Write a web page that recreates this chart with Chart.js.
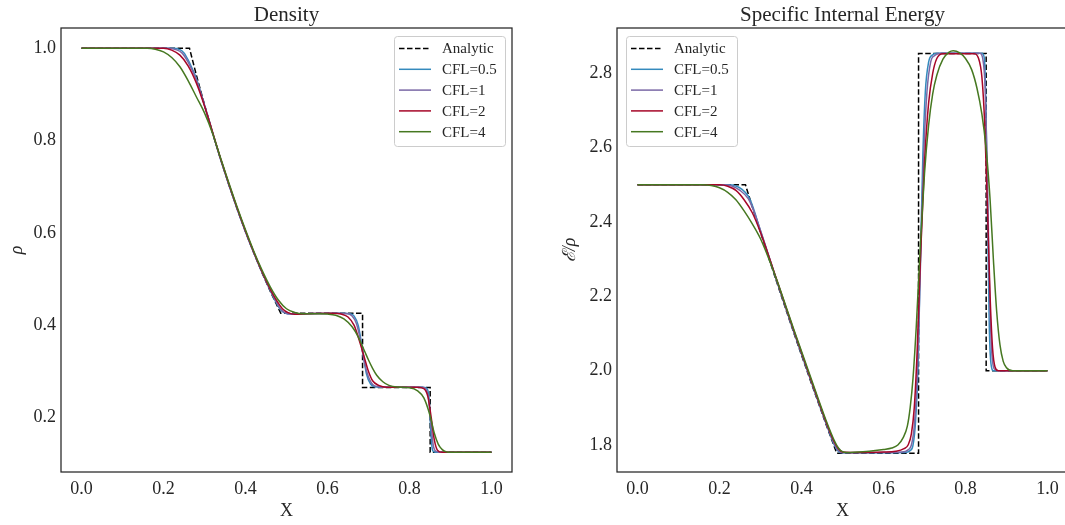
<!DOCTYPE html>
<html>
<head>
<meta charset="utf-8">
<script src="https://cdn.jsdelivr.net/npm/chart.js@4.4.1/dist/chart.umd.min.js"></script>
<style>
  html, body { margin: 0; padding: 0; background: #ffffff; overflow: hidden; }
  #wrap { position: relative; width: 1065px; height: 525px; overflow: hidden; }
  #c1 { position: absolute; left: 0; top: 0; }
  #c2 { position: absolute; left: 530px; top: 0; }
</style>
</head>
<body>
<div id="wrap">
  <canvas id="c1" width="530" height="525"></canvas>
  <canvas id="c2" width="540" height="525"></canvas>
</div>
<script>
// ---------- tick labels / categories ----------
const xTicks = [0.0, 0.2, 0.4, 0.6, 0.8, 1.0];
const densityTicks = [0.2, 0.4, 0.6, 0.8, 1.0];
const energyTicks = [1.8, 2.0, 2.2, 2.4, 2.6, 2.8];
const seriesLabels = ['Analytic', 'CFL=0.5', 'CFL=1', 'CFL=2', 'CFL=4'];

// ---------- Density series [x, rho] ----------
const densityAnalytic = [[0,1],[0.2634,1],[0.28,0.9424],[0.30,0.8776],[0.32,0.8157],[0.34,0.7577],[0.36,0.7030],[0.38,0.6514],[0.40,0.6027],[0.42,0.5576],[0.44,0.5147],[0.46,0.4745],[0.486,0.4263],[0.6855,0.4263],[0.6855,0.2656],[0.8504,0.2656],[0.8504,0.125],[1,0.125]];
const densityCfl05 = [[0,1],[0.22,1],[0.24,0.997],[0.25,0.99],[0.26,0.975],[0.27,0.956],[0.28,0.935],[0.30,0.876],[0.34,0.757],[0.38,0.651],[0.42,0.557],[0.46,0.476],[0.475,0.449],[0.485,0.434],[0.495,0.427],[0.51,0.4245],[0.55,0.425],[0.62,0.426],[0.655,0.425],[0.665,0.42],[0.675,0.40],[0.685,0.35],[0.695,0.295],[0.705,0.273],[0.715,0.267],[0.73,0.266],[0.83,0.266],[0.842,0.264],[0.848,0.24],[0.852,0.17],[0.856,0.13],[0.862,0.125],[1,0.125]];
const densityCfl1 = [[0,1],[0.21,1],[0.23,0.997],[0.245,0.99],[0.26,0.97],[0.28,0.932],[0.30,0.877],[0.34,0.758],[0.38,0.652],[0.42,0.558],[0.46,0.477],[0.475,0.451],[0.485,0.436],[0.497,0.427],[0.51,0.4245],[0.55,0.425],[0.62,0.426],[0.65,0.425],[0.66,0.42],[0.67,0.405],[0.68,0.37],[0.69,0.32],[0.70,0.288],[0.71,0.272],[0.725,0.267],[0.74,0.266],[0.83,0.266],[0.838,0.264],[0.846,0.245],[0.852,0.19],[0.858,0.14],[0.865,0.127],[0.875,0.125],[1,0.125]];
const densityCfl2 = [[0,1],[0.2,1],[0.22,0.996],[0.24,0.985],[0.26,0.962],[0.28,0.925],[0.30,0.875],[0.34,0.759],[0.38,0.653],[0.42,0.559],[0.46,0.479],[0.475,0.455],[0.49,0.436],[0.505,0.427],[0.52,0.424],[0.55,0.425],[0.61,0.426],[0.635,0.424],[0.65,0.418],[0.665,0.40],[0.68,0.36],[0.69,0.33],[0.70,0.30],[0.71,0.28],[0.725,0.27],[0.745,0.266],[0.82,0.266],[0.835,0.263],[0.845,0.245],[0.853,0.2],[0.86,0.155],[0.868,0.13],[0.88,0.125],[1,0.125]];
const densityCfl4 = [[0,1],[0.16,1],[0.18,0.998],[0.20,0.992],[0.22,0.98],[0.24,0.96],[0.26,0.93],[0.28,0.895],[0.30,0.86],[0.32,0.815],[0.34,0.76],[0.38,0.655],[0.42,0.561],[0.44,0.52],[0.46,0.484],[0.48,0.455],[0.50,0.436],[0.52,0.428],[0.54,0.425],[0.58,0.425],[0.60,0.4245],[0.62,0.422],[0.64,0.414],[0.66,0.397],[0.675,0.375],[0.69,0.345],[0.70,0.325],[0.71,0.307],[0.72,0.292],[0.735,0.278],[0.75,0.27],[0.77,0.2665],[0.80,0.265],[0.82,0.258],[0.835,0.243],[0.85,0.205],[0.86,0.168],[0.87,0.143],[0.88,0.131],[0.89,0.126],[0.90,0.125],[1,0.125]];

// ---------- Specific internal energy series [x, e] ----------
const energyAnalytic = [[0,2.5],[0.2634,2.5],[0.28,2.441],[0.30,2.373],[0.32,2.304],[0.34,2.237],[0.36,2.171],[0.38,2.106],[0.40,2.042],[0.42,1.979],[0.44,1.917],[0.46,1.855],[0.486,1.7776],[0.6855,1.7776],[0.6855,2.8536],[0.8504,2.8536],[0.8504,2.0],[1,2.0]];
const energyCfl05 = [[0,2.5],[0.22,2.5],[0.24,2.497],[0.255,2.488],[0.27,2.47],[0.28,2.445],[0.30,2.376],[0.34,2.24],[0.38,2.108],[0.42,1.982],[0.46,1.858],[0.48,1.8],[0.49,1.783],[0.50,1.779],[0.52,1.779],[0.60,1.779],[0.65,1.78],[0.665,1.785],[0.672,1.80],[0.678,1.86],[0.684,2.0],[0.69,2.3],[0.696,2.58],[0.702,2.75],[0.71,2.83],[0.72,2.85],[0.73,2.854],[0.84,2.854],[0.846,2.84],[0.85,2.7],[0.854,2.4],[0.858,2.12],[0.862,2.02],[0.868,2.0],[1,2.0]];
const energyCfl1 = [[0,2.5],[0.21,2.5],[0.23,2.497],[0.25,2.485],[0.27,2.463],[0.28,2.44],[0.30,2.377],[0.34,2.241],[0.38,2.11],[0.42,1.984],[0.46,1.86],[0.48,1.803],[0.49,1.785],[0.50,1.779],[0.52,1.779],[0.60,1.78],[0.645,1.781],[0.66,1.787],[0.668,1.80],[0.675,1.85],[0.682,1.98],[0.69,2.28],[0.698,2.58],[0.706,2.75],[0.715,2.83],[0.725,2.848],[0.74,2.854],[0.835,2.854],[0.842,2.84],[0.848,2.76],[0.853,2.55],[0.858,2.25],[0.863,2.07],[0.87,2.005],[0.88,2.0],[1,2.0]];
const energyCfl2 = [[0,2.5],[0.2,2.5],[0.22,2.496],[0.24,2.485],[0.26,2.46],[0.28,2.425],[0.30,2.372],[0.34,2.243],[0.38,2.112],[0.42,1.986],[0.46,1.862],[0.48,1.808],[0.49,1.79],[0.50,1.781],[0.52,1.78],[0.60,1.781],[0.63,1.783],[0.65,1.79],[0.66,1.80],[0.668,1.83],[0.675,1.9],[0.682,2.05],[0.69,2.3],[0.70,2.56],[0.71,2.72],[0.72,2.8],[0.73,2.84],[0.745,2.853],[0.82,2.853],[0.832,2.84],[0.84,2.79],[0.847,2.66],[0.854,2.42],[0.86,2.2],[0.866,2.06],[0.872,2.01],[0.88,2.0],[1,2.0]];
const energyCfl4 = [[0,2.5],[0.16,2.5],[0.18,2.498],[0.20,2.492],[0.22,2.48],[0.24,2.46],[0.26,2.43],[0.28,2.395],[0.30,2.355],[0.32,2.302],[0.34,2.243],[0.38,2.115],[0.42,1.99],[0.46,1.866],[0.48,1.812],[0.49,1.792],[0.50,1.782],[0.51,1.78],[0.55,1.782],[0.58,1.785],[0.60,1.788],[0.62,1.792],[0.635,1.80],[0.648,1.82],[0.658,1.85],[0.665,1.9],[0.672,1.98],[0.68,2.12],[0.69,2.34],[0.70,2.53],[0.71,2.66],[0.72,2.745],[0.73,2.795],[0.745,2.838],[0.76,2.857],[0.77,2.861],[0.785,2.856],[0.80,2.84],[0.815,2.81],[0.828,2.76],[0.84,2.69],[0.85,2.6],[0.86,2.46],[0.868,2.3],[0.876,2.16],[0.884,2.07],[0.892,2.025],[0.90,2.008],[0.915,2.0],[1,2.0]];

// ---------- styling ----------
const seriesColors = ['#000000', '#348ABD', '#7A68A6', '#A60628', '#467821'];
const serif = "'Liberation Serif', 'DejaVu Serif', serif";
const inkColor = '#262626';

function toPoints(arr) { return arr.map(p => ({ x: p[0], y: p[1] })); }

function buildDatasets(seriesArr) {
  return seriesArr.map((s, i) => ({
    label: seriesLabels[i],
    data: toPoints(s),
    borderColor: seriesColors[i],
    backgroundColor: seriesColors[i],
    borderWidth: 1.5,
    borderDash: i === 0 ? [5.5, 2.5] : [],
    pointRadius: 0,
    fill: false,
    tension: 0,
    cubicInterpolationMode: i === 0 ? 'default' : 'monotone',
    order: 5 - i
  }));
}

const framePlugin = {
  id: 'frame',
  afterDatasetsDraw(chart, args, opts) {
    const { ctx, chartArea: a } = chart;
    ctx.save();
    // axes box
    ctx.strokeStyle = inkColor;
    ctx.lineWidth = 1.25;
    ctx.strokeRect(a.left, a.top, a.right - a.left, a.bottom - a.top);
    // title
    ctx.fillStyle = inkColor;
    ctx.font = "21px " + serif;
    ctx.textAlign = 'center';
    ctx.textBaseline = 'alphabetic';
    ctx.fillText(opts.title, (a.left + a.right) / 2, a.top - 7);
    // legend
    const w = 111, h = 110, rowH = 20.8;
    const bx = opts.legendSide === 'right' ? a.right - 7 - w : a.left + 9;
    const by = a.top + 8;
    ctx.beginPath();
    if (ctx.roundRect) ctx.roundRect(bx + 0.5, by + 0.5, w, h, 3); else ctx.rect(bx + 0.5, by + 0.5, w, h);
    ctx.fillStyle = 'rgba(255,255,255,0.8)';
    ctx.fill();
    ctx.strokeStyle = '#cccccc';
    ctx.lineWidth = 1;
    ctx.stroke();
    ctx.font = "15px " + serif;
    ctx.textAlign = 'left';
    ctx.textBaseline = 'middle';
    chart.data.datasets.forEach((ds, i) => {
      const cy = by + 12.5 + i * rowH;
      ctx.beginPath();
      ctx.setLineDash(ds.borderDash || []);
      ctx.strokeStyle = ds.borderColor;
      ctx.lineWidth = 1.5;
      ctx.moveTo(bx + 5, cy);
      ctx.lineTo(bx + 37, cy);
      ctx.stroke();
      ctx.setLineDash([]);
      ctx.fillStyle = inkColor;
      ctx.fillText(ds.label, bx + 48, cy + 1);
    });
    ctx.restore();
  }
};

function makeChart(canvasId, seriesArr, yMin, yMax, yTickVals, title, yTitle, yTitlePad, yWidth, padRight, legendSide) {
  const ctx = document.getElementById(canvasId).getContext('2d');
  return new Chart(ctx, {
    type: 'line',
    data: { datasets: buildDatasets(seriesArr) },
    plugins: [framePlugin],
    options: {
      responsive: false,
      animation: false,
      events: [],
      layout: { padding: { top: 28, left: 0, right: padRight, bottom: 0 } },
      plugins: {
        legend: { display: false },
        tooltip: { enabled: false },
        title: { display: false },
        frame: { title: title, legendSide: legendSide }
      },
      scales: {
        x: {
          type: 'linear',
          min: -0.05, max: 1.05,
          grid: { display: false, drawTicks: false },
          border: { display: false },
          afterBuildTicks: s => { s.ticks = xTicks.map(v => ({ value: v })); },
          afterFit: s => { s.height = 53; },
          ticks: {
            padding: 6,
            color: inkColor,
            font: { family: serif, size: 18 },
            callback: v => Number(v).toFixed(1)
          },
          title: {
            display: true, text: 'X', color: inkColor,
            font: { family: serif, size: 18 },
            padding: { top: 0, bottom: 2.5 }
          }
        },
        y: {
          type: 'linear',
          min: yMin, max: yMax,
          grid: { display: false, drawTicks: false },
          border: { display: false },
          afterBuildTicks: s => { s.ticks = yTickVals.map(v => ({ value: v })); },
          afterFit: s => { s.width = yWidth; },
          ticks: {
            padding: 5,
            color: inkColor,
            font: { family: serif, size: 18 },
            callback: v => Number(v).toFixed(1)
          },
          title: {
            display: true, text: yTitle, color: inkColor,
            font: { family: serif, size: 18, style: 'italic' },
            padding: { top: yTitlePad, bottom: 0 }
          }
        }
      }
    }
  });
}

makeChart('c1', [densityAnalytic, densityCfl05, densityCfl1, densityCfl2, densityCfl4],
  0.0825, 1.0438, densityTicks, 'Density', 'ρ', 6.7, 61, 18, 'right');
makeChart('c2', [energyAnalytic, energyCfl05, energyCfl1, energyCfl2, energyCfl4],
  1.7274, 2.922, energyTicks, 'Specific Internal Energy', 'ℰ/ρ', 29, 87, 2, 'left');
</script>
</body>
</html>
